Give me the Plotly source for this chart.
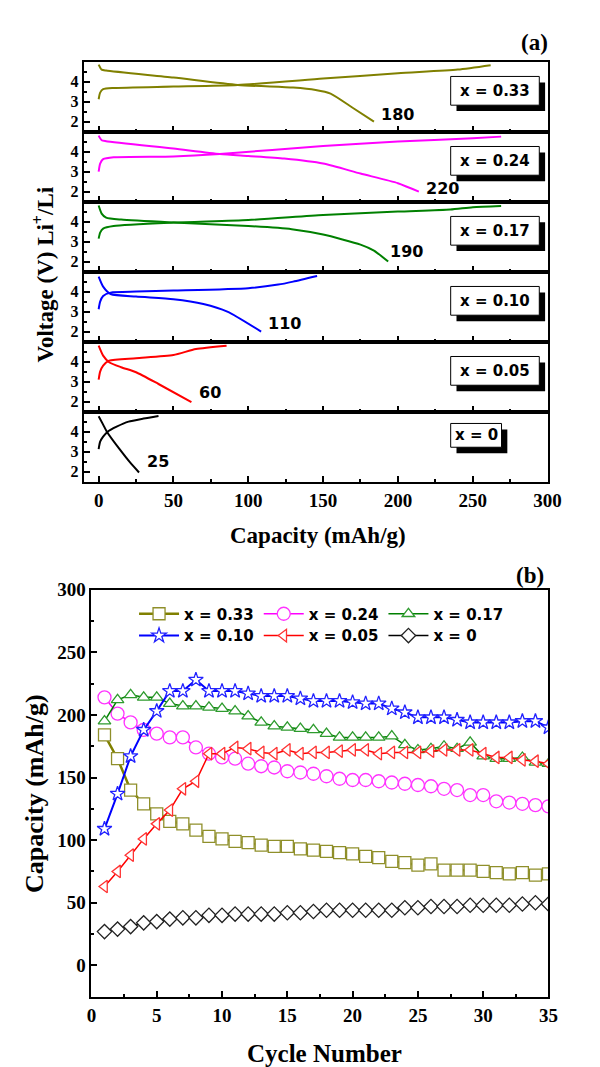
import plotly.graph_objects as go

# ---------------- data: panel (a) charge / discharge curves ----------------
PANEL_NAMES = ["x = 0.33", "x = 0.24", "x = 0.17", "x = 0.10", "x = 0.05", "x = 0"]
END_LABELS = ["180", "220", "190", "110", "60", "25"]
END_LABEL_CAP = [187.5, 217.4, 193.5, 112, 65.4, 30.7]
END_LABEL_V = [2.35, 2.13, 2.52, 2.43, 2.46, 2.51]
COLORS = ["#808000", "#FF00FF", "#008000", "#0000FF", "#FF0000", "#000000"]

CAP_CH_033 = [0, 1, 3, 10, 50, 93, 150, 200, 240, 262]
V_CH_033 = [3.12, 3.45, 3.62, 3.68, 3.75, 3.83, 4.15, 4.42, 4.6, 4.82]
CAP_DIS_033 = [0, 2, 5, 50, 93, 130, 145, 155, 170, 184]
V_DIS_033 = [4.85, 4.6, 4.55, 4.2, 3.83, 3.7, 3.58, 3.4, 2.68, 2.0]

CAP_CH_024 = [0, 1, 3, 10, 50, 81, 150, 200, 250, 269]
V_CH_024 = [3.0, 3.4, 3.62, 3.72, 3.76, 3.88, 4.28, 4.5, 4.67, 4.75]
CAP_DIS_024 = [0, 2, 5, 50, 81, 100, 124, 150, 175, 200, 214]
V_DIS_024 = [4.8, 4.57, 4.52, 4.15, 3.88, 3.78, 3.65, 3.4, 2.9, 2.42, 2.0]

CAP_CH_017 = [0, 1, 3, 10, 50, 100, 150, 200, 235, 250, 269]
V_CH_017 = [3.15, 3.45, 3.65, 3.78, 3.95, 4.08, 4.33, 4.5, 4.6, 4.72, 4.78]
CAP_DIS_017 = [0, 2, 5, 15, 50, 100, 129, 150, 175, 184, 193.5]
V_DIS_017 = [4.8, 4.4, 4.2, 4.1, 3.95, 3.78, 3.62, 3.35, 2.85, 2.55, 2.0]

CAP_CH_010 = [0, 1, 3, 8, 25, 50, 100, 120, 130, 146]
V_CH_010 = [3.12, 3.5, 3.78, 3.95, 4.0, 4.05, 4.17, 4.35, 4.5, 4.78]
CAP_DIS_010 = [0, 3, 8, 25, 50, 70, 86, 108.6]
V_DIS_010 = [4.75, 4.25, 3.88, 3.75, 3.62, 3.38, 3.0, 2.0]

CAP_CH_005 = [0, 1, 3, 7, 25, 50, 65, 85.5]
V_CH_005 = [3.1, 3.5, 3.8, 4.05, 4.17, 4.33, 4.63, 4.8]
CAP_DIS_005 = [0, 3, 7, 15, 25, 40, 62]
V_DIS_005 = [4.8, 4.3, 3.97, 3.72, 3.47, 2.88, 1.97]

CAP_CH_000 = [0, 1, 3, 6, 12, 20, 30, 40]
V_CH_000 = [3.13, 3.5, 3.75, 4.0, 4.25, 4.5, 4.65, 4.78]
CAP_DIS_000 = [0, 3, 5.5, 14, 21, 27]
V_DIS_000 = [4.77, 4.35, 4.0, 3.13, 2.47, 1.97]

CHARGE = [(CAP_CH_033, V_CH_033), (CAP_CH_024, V_CH_024), (CAP_CH_017, V_CH_017),
          (CAP_CH_010, V_CH_010), (CAP_CH_005, V_CH_005), (CAP_CH_000, V_CH_000)]
DISCHARGE = [(CAP_DIS_033, V_DIS_033), (CAP_DIS_024, V_DIS_024), (CAP_DIS_017, V_DIS_017),
             (CAP_DIS_010, V_DIS_010), (CAP_DIS_005, V_DIS_005), (CAP_DIS_000, V_DIS_000)]

# ---------------- data: panel (b) cycling ----------------
CYCLES = list(range(1, 36))
CAP_033 = [184, 165, 140, 129, 121, 115, 113, 108, 103, 101, 99, 98, 96, 95, 95, 93, 92, 91,
           90, 89, 87, 86, 83, 82, 80, 81, 76, 76, 76, 75, 74, 73, 74, 72, 73]
CAP_024 = [214, 201, 194, 188, 185, 182, 182, 174, 169, 166, 165, 161, 159, 158, 155, 154, 153,
           151, 149, 148, 148, 147, 146, 145, 144, 143, 141, 140, 136, 136, 131, 130, 129, 128, 127]
CAP_017 = [195, 212, 216, 214, 214, 209, 207, 207, 206, 205, 203, 199, 194, 191, 190, 189, 188,
           185, 182, 182, 182, 182, 183, 176, 172, 173, 175, 173, 178, 167, 165, 165, 166, 162, 161]
CAP_010 = [109, 137, 167, 188, 203, 219, 219, 228, 219, 219, 219, 217, 215, 215, 215, 213, 211,
           211, 211, 210, 209, 209, 205, 202, 198, 198, 198, 196, 194, 194, 194, 194, 195, 195, 190]
CAP_005 = [63, 75, 88, 101, 113, 124, 141, 147, 169, 169, 174, 173, 170, 169, 172, 169, 170, 170,
           171, 172, 172, 169, 170, 170, 170, 171, 172, 172, 172, 169, 166, 166, 164, 163, 161]
CAP_000 = [27, 29, 31, 34, 35, 37, 38, 38, 40, 40, 41, 41, 41, 41, 42, 42, 43, 44, 44, 44, 44, 44,
           44, 46, 46, 47, 47, 47, 48, 48, 48, 48, 49, 50, 49]
SERIES_B = [CAP_033, CAP_024, CAP_017, CAP_010, CAP_005, CAP_000]
SYMBOLS = ["square", "circle", "triangle-up", "star", "triangle-left", "diamond"]
MARKER_EDGE = ["#8f8f2a", "#FF33FF", "#2E9B2E", "#2222FF", "#FF3333", "#222222"]
MARKER_SIZE = [12, 13, 11, 11, 11, 11]
LINE_W = [2.5, 1.5, 1.5, 2, 1.5, 1.5]
LEGEND_ROW = ["legend", "legend", "legend", "legend2", "legend2", "legend2"]

# ---------------- layout geometry (pixels) ----------------
W, H = 600, 1067
TOP_X0, TOP_X1 = 73, 552
EDGES = [44, 114.7, 185.3, 256, 326.7, 397.3, 468.3]
BOT_X0, BOT_X1 = 81, 553
BOT_Y0, BOT_Y1 = 577, 988


def fx(p):
    return p / W


def fy(p):
    return 1 - p / H


SERIF = "Liberation Serif"
SANS = "DejaVu Sans"

fig = go.Figure()

for i in range(6):
    ax = "" if i == 0 else str(i + 1)
    for cap, v in (CHARGE[i], DISCHARGE[i]):
        fig.add_trace(go.Scatter(
            x=cap, y=v, mode="lines",
            line=dict(color=COLORS[i], width=2, shape="spline", smoothing=0.6),
            xaxis="x" + ax, yaxis="y" + ax, showlegend=False, hoverinfo="skip"))

for i in range(6):
    fig.add_trace(go.Scatter(
        x=CYCLES, y=SERIES_B[i], mode="lines+markers", name=PANEL_NAMES[i],
        line=dict(color=COLORS[i], width=LINE_W[i]),
        marker=dict(symbol=SYMBOLS[i], size=MARKER_SIZE[i], color="white",
                    line=dict(color=MARKER_EDGE[i], width=1.3)),
        xaxis="x7", yaxis="y7", legend=LEGEND_ROW[i]))

axis_common = dict(showline=True, mirror=True, linecolor="black", linewidth=2,
                   showgrid=False, zeroline=False, ticks="inside", tickcolor="black",
                   tickwidth=1.5, ticklen=6)

layout = dict(
    width=W, height=H, margin=dict(l=0, r=0, t=0, b=0),
    paper_bgcolor="white", plot_bgcolor="white", showlegend=True,
)

for i in range(6):
    ax = "" if i == 0 else str(i + 1)
    layout["xaxis" + ax] = dict(
        axis_common, domain=[fx(TOP_X0), fx(TOP_X1)], range=[-10, 300], anchor="y" + ax,
        tickmode="array", tickvals=[0, 50, 100, 150, 200, 250, 300],
        minor=dict(tickvals=[25, 75, 125, 175, 225, 275], ticks="inside", ticklen=3,
                   tickcolor="black", tickwidth=1.5),
        showticklabels=(i == 5),
        tickfont=dict(family=SERIF, size=19, color="black", weight="bold"))
    layout["yaxis" + ax] = dict(
        axis_common, domain=[fy(EDGES[i + 1]), fy(EDGES[i])], range=[1.5, 5.0],
        anchor="x" + ax, tickmode="array", tickvals=[2, 3, 4],
        minor=dict(tickvals=[2.5, 3.5, 4.5], ticks="inside", ticklen=3,
                   tickcolor="black", tickwidth=1.5),
        tickfont=dict(family=SERIF, size=16, color="black", weight="bold"))

layout["xaxis7"] = dict(
    axis_common, domain=[fx(BOT_X0), fx(BOT_X1)], range=[0, 35], anchor="y7",
    dtick=5, tick0=0, minor=dict(dtick=2.5, ticks="inside", ticklen=3,
                                 tickcolor="black", tickwidth=1.5),
    tickfont=dict(family=SERIF, size=19, color="black", weight="bold"))
layout["yaxis7"] = dict(
    axis_common, domain=[fy(BOT_Y1), fy(BOT_Y0)], range=[-25, 300], anchor="x7",
    dtick=50, tick0=0, minor=dict(dtick=25, ticks="inside", ticklen=3,
                                  tickcolor="black", tickwidth=1.5),
    tickfont=dict(family=SERIF, size=19, color="black", weight="bold"))

legend_common = dict(
    orientation="h", xanchor="left", yanchor="top", bgcolor="rgba(0,0,0,0)",
    itemwidth=40, font=dict(family=SANS, size=15, color="black", weight="bold"))
layout["legend"] = dict(legend_common, x=fx(125), y=fy(585))
layout["legend2"] = dict(legend_common, x=fx(125), y=fy(607))

shapes = []
annotations = []
for i in range(6):
    top = EDGES[i]
    if i < 5:
        bx0, bx1, by0, by1 = 452, 543.5, top + 15, top + 44
    else:
        bx0, bx1, by0, by1 = 452, 504.5, top + 12, top + 36
    shapes.append(dict(type="rect", xref="paper", yref="paper",
                       x0=fx(bx0 + 6), x1=fx(bx1 + 6), y0=fy(by1 + 6), y1=fy(by0 + 6),
                       fillcolor="black", line=dict(width=0)))
    shapes.append(dict(type="rect", xref="paper", yref="paper",
                       x0=fx(bx0), x1=fx(bx1), y0=fy(by1), y1=fy(by0),
                       fillcolor="white", line=dict(color="black", width=1)))
    annotations.append(dict(
        text=PANEL_NAMES[i], xref="paper", yref="paper",
        x=fx((bx0 + bx1) / 2), y=fy((by0 + by1) / 2), showarrow=False,
        xanchor="center", yanchor="middle",
        font=dict(family=SANS, size=15, color="black", weight="bold")))
    ax = "" if i == 0 else str(i + 1)
    annotations.append(dict(
        text=END_LABELS[i], xref="x" + ax, yref="y" + ax,
        x=END_LABEL_CAP[i], y=END_LABEL_V[i], showarrow=False,
        xanchor="left", yanchor="middle",
        font=dict(family=SANS, size=16, color="black", weight="bold")))

title_font = lambda s: dict(family=SERIF, size=s, color="black", weight="bold")
annotations += [
    dict(text="(a)", xref="paper", yref="paper", x=fx(539), y=fy(25), showarrow=False,
         xanchor="center", yanchor="middle", font=title_font(23)),
    dict(text="(b)", xref="paper", yref="paper", x=fx(534), y=fy(563), showarrow=False,
         xanchor="center", yanchor="middle", font=title_font(23)),
    dict(text="Voltage (V) Li<sup>+</sup>/Li", xref="paper", yref="paper", x=fx(32),
         y=fy(259), textangle=-90, showarrow=False, xanchor="center", yanchor="middle",
         font=title_font(23)),
    dict(text="Capacity (mAh/g)", xref="paper", yref="paper", x=fx(315), y=fy(522),
         showarrow=False, xanchor="center", yanchor="middle", font=title_font(23)),
    dict(text="Capacity (mAh/g)", xref="paper", yref="paper", x=fx(22), y=fy(783),
         textangle=-90, showarrow=False, xanchor="center", yanchor="middle",
         font=title_font(26)),
    dict(text="Cycle Number", xref="paper", yref="paper", x=fx(322), y=fy(1045),
         showarrow=False, xanchor="center", yanchor="middle", font=title_font(25)),
]
layout["shapes"] = shapes
layout["annotations"] = annotations

fig.update_layout(**layout)
fig.write_html("out.html")
